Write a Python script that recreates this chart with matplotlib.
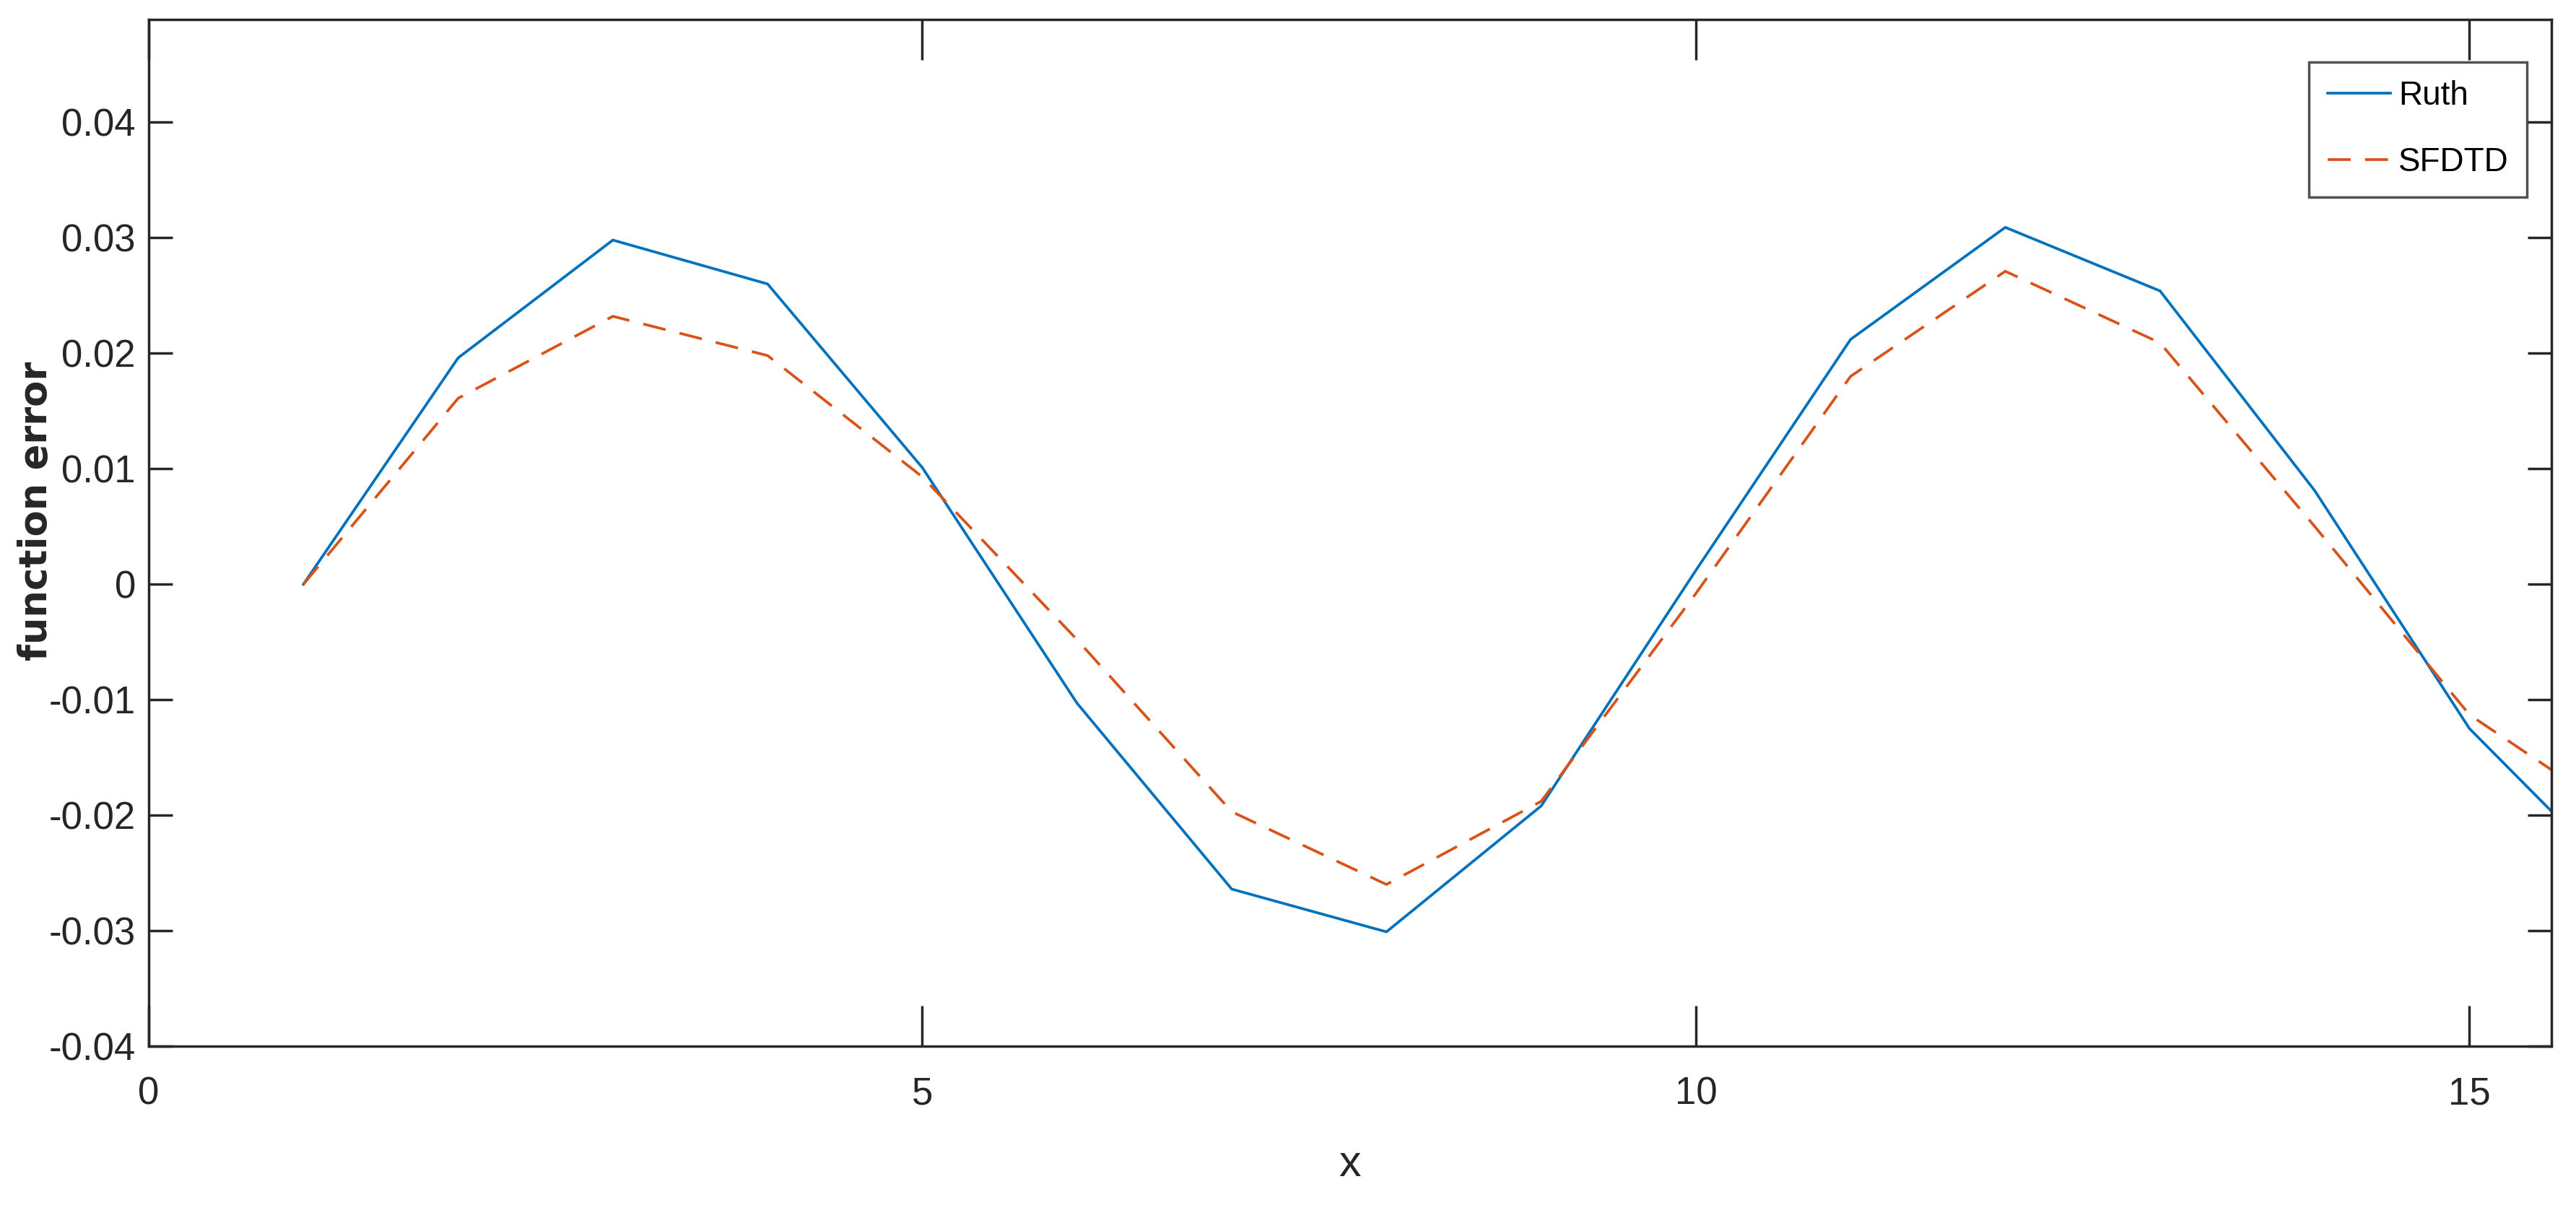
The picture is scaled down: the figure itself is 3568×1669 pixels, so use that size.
import matplotlib
matplotlib.use("Agg")
import matplotlib.pyplot as plt

# ---- data ----
x = [1, 2, 3, 4, 5, 6, 7, 8, 9, 10, 11, 12, 13, 14, 15, 16]
ruth = [0.0, 0.0196, 0.0298, 0.0260, 0.0101, -0.0103, -0.0264, -0.0301, -0.0192,
        0.0012, 0.0212, 0.0309, 0.0254, 0.0081, -0.0125, -0.0260]
sfdtd = [0.0, 0.0161, 0.0232, 0.0198, 0.0093, -0.0048, -0.0197, -0.0260, -0.0188,
         -0.0008, 0.0180, 0.0271, 0.0209, 0.0050, -0.0113, -0.0203]
xticks = [0, 5, 10, 15]
yticks = [-0.04, -0.03, -0.02, -0.01, 0, 0.01, 0.02, 0.03, 0.04]
yticklabels = ["-0.04", "-0.03", "-0.02", "-0.01", "0", "0.01", "0.02", "0.03", "0.04"]

plt.rcParams["font.family"] = ["Liberation Sans", "DejaVu Sans"]

W, H = 3568, 1669
L, R, T, B = 206, 3534, 27, 1449
fig = plt.figure(figsize=(W / 100, H / 100), dpi=100)
ax = fig.add_axes([L / W, 1 - B / H, (R - L) / W, (B - T) / H])

ax.plot(x, ruth, color="#0072BD", lw=2.7, label="Ruth")
ax.plot(x, sfdtd, color="#D95319", lw=2.7, ls=(0, (8.5, 5.3)), label="SFDTD")

ax.set_xlim(0, 15.53)
ax.set_ylim(-0.04, 0.0489)
ax.set_xticks(xticks)
ax.set_xticklabels([str(t) for t in xticks])
ax.set_yticks(yticks)
ax.set_yticklabels(yticklabels)

dark = "#262626"
for s in ax.spines.values():
    s.set_linewidth(2.5)
    s.set_color(dark)
ax.tick_params(axis="both", direction="in", top=True, right=True, colors=dark,
               labelsize=38, width=2.5)
ax.tick_params(axis="y", length=24, pad=13)
ax.tick_params(axis="x", length=40, pad=30)

ax.set_xlabel("x", fontsize=44, color=dark, va="center")
ax.xaxis.set_label_coords(0.5, -(1613 - B) / (B - T))

fig.text(50 / W, 1 - 708 / H, "function error", rotation=90, ha="center", va="center",
         fontsize=38, fontweight="bold", color=dark, family=["DejaVu Sans"])

leg = ax.legend(loc="upper right", fontsize=33, frameon=True, fancybox=False,
                edgecolor=dark, handlelength=1.9, handletextpad=0.25,
                borderpad=0.55, labelspacing=1.05, borderaxespad=0.0)
leg.get_frame().set_linewidth(2.5)
leg.set_bbox_to_anchor((3500 / W, 1 - 86 / H), transform=fig.transFigure)
for t in leg.get_texts():
    t.set_color("black")

fig.savefig("out.png", dpi=100, facecolor="white")
